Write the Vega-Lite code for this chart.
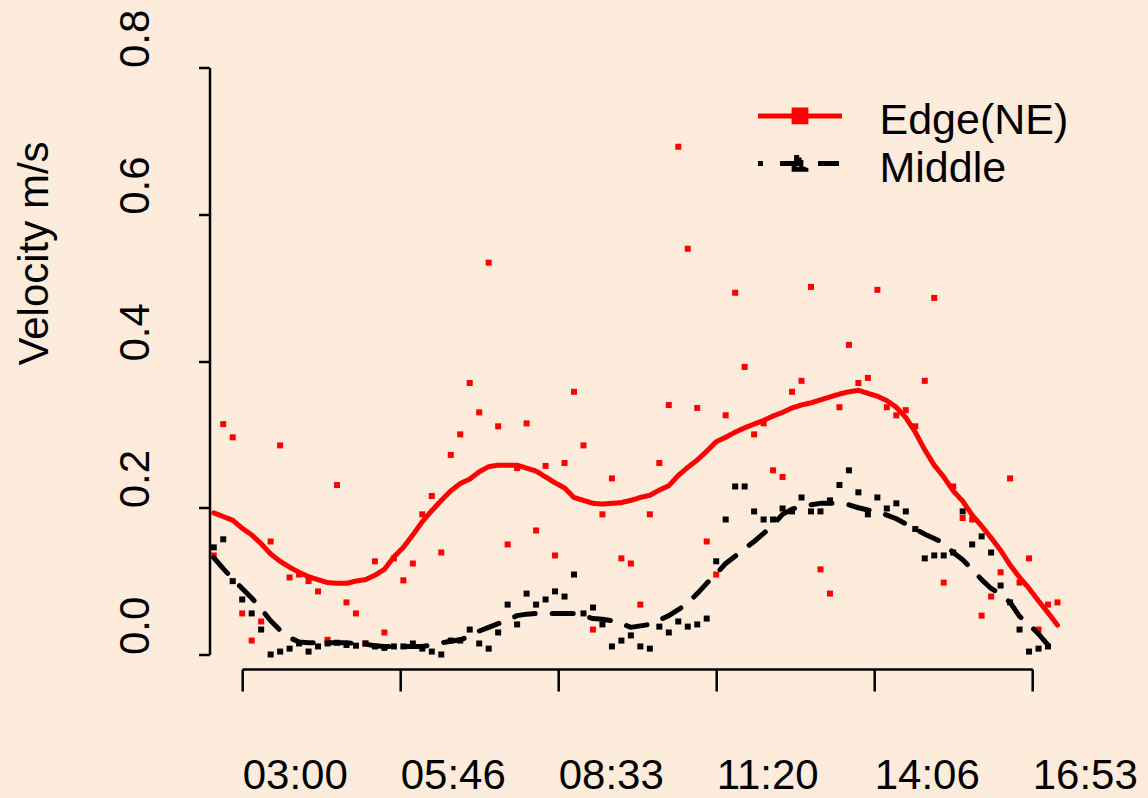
{
  "$schema": "https://vega.github.io/schema/vega-lite/v6.json",
  "width": 790,
  "height": 587,
  "autosize": "none",
  "padding": {"left": 242.2, "top": 67.5, "right": 115.8, "bottom": 143.5},
  "background": "#FDEBDC",
  "config": {
    "view": {"stroke": null},
    "font": "Liberation Sans",
    "axis": {
      "domainColor": "#000000", "domainWidth": 2.5, "tickColor": "#000000", "tickWidth": 2.5,
      "labelColor": "#000000", "labelFont": "Liberation Sans", "labelFontSize": 42,
      "titleColor": "#000000", "titleFont": "Liberation Sans", "titleFontSize": 42, "titleFontWeight": "normal",
      "grid": false, "labelFlush": false, "labelOverlap": false, "labelBound": false
    }
  },
  "data": {
    "format": {"parse": {"t": "date:'%H:%M'"}},
    "values": [
      {"t": "02:30", "series": "Edge(NE)", "speed": 0.135, "smooth": 0.193},
      {"t": "02:40", "series": "Edge(NE)", "speed": 0.314, "smooth": 0.188},
      {"t": "02:50", "series": "Edge(NE)", "speed": 0.296, "smooth": 0.183},
      {"t": "03:00", "series": "Edge(NE)", "speed": 0.056, "smooth": 0.172},
      {"t": "03:10", "series": "Edge(NE)", "speed": 0.019, "smooth": 0.163},
      {"t": "03:20", "series": "Edge(NE)", "speed": 0.045, "smooth": 0.151},
      {"t": "03:30", "series": "Edge(NE)", "speed": 0.154, "smooth": 0.137},
      {"t": "03:40", "series": "Edge(NE)", "speed": 0.285, "smooth": 0.127},
      {"t": "03:50", "series": "Edge(NE)", "speed": 0.105, "smooth": 0.119},
      {"t": "04:00", "series": "Edge(NE)", "speed": 0.109, "smooth": 0.112},
      {"t": "04:10", "series": "Edge(NE)", "speed": 0.100, "smooth": 0.106},
      {"t": "04:20", "series": "Edge(NE)", "speed": 0.086, "smooth": 0.102},
      {"t": "04:30", "series": "Edge(NE)", "speed": 0.020, "smooth": 0.098},
      {"t": "04:40", "series": "Edge(NE)", "speed": 0.231, "smooth": 0.097},
      {"t": "04:50", "series": "Edge(NE)", "speed": 0.071, "smooth": 0.097},
      {"t": "05:00", "series": "Edge(NE)", "speed": 0.056, "smooth": 0.100},
      {"t": "05:10", "series": "Edge(NE)", "speed": 0.015, "smooth": 0.102},
      {"t": "05:20", "series": "Edge(NE)", "speed": 0.127, "smooth": 0.108},
      {"t": "05:30", "series": "Edge(NE)", "speed": 0.030, "smooth": 0.116},
      {"t": "05:40", "series": "Edge(NE)", "speed": 0.131, "smooth": 0.133},
      {"t": "05:50", "series": "Edge(NE)", "speed": 0.101, "smooth": 0.146},
      {"t": "06:00", "series": "Edge(NE)", "speed": 0.124, "smooth": 0.163},
      {"t": "06:10", "series": "Edge(NE)", "speed": 0.191, "smooth": 0.181},
      {"t": "06:20", "series": "Edge(NE)", "speed": 0.216, "smooth": 0.196},
      {"t": "06:30", "series": "Edge(NE)", "speed": 0.139, "smooth": 0.210},
      {"t": "06:40", "series": "Edge(NE)", "speed": 0.272, "smooth": 0.223},
      {"t": "06:50", "series": "Edge(NE)", "speed": 0.300, "smooth": 0.233},
      {"t": "07:00", "series": "Edge(NE)", "speed": 0.370, "smooth": 0.239},
      {"t": "07:10", "series": "Edge(NE)", "speed": 0.330, "smooth": 0.249},
      {"t": "07:20", "series": "Edge(NE)", "speed": 0.534, "smooth": 0.256},
      {"t": "07:30", "series": "Edge(NE)", "speed": 0.311, "smooth": 0.258},
      {"t": "07:40", "series": "Edge(NE)", "speed": 0.150, "smooth": 0.258},
      {"t": "07:50", "series": "Edge(NE)", "speed": 0.254, "smooth": 0.258},
      {"t": "08:00", "series": "Edge(NE)", "speed": 0.315, "smooth": 0.254},
      {"t": "08:10", "series": "Edge(NE)", "speed": 0.169, "smooth": 0.250},
      {"t": "08:20", "series": "Edge(NE)", "speed": 0.257, "smooth": 0.242},
      {"t": "08:30", "series": "Edge(NE)", "speed": 0.135, "smooth": 0.234},
      {"t": "08:40", "series": "Edge(NE)", "speed": 0.261, "smooth": 0.227},
      {"t": "08:50", "series": "Edge(NE)", "speed": 0.358, "smooth": 0.214},
      {"t": "09:00", "series": "Edge(NE)", "speed": 0.285, "smooth": 0.210},
      {"t": "09:10", "series": "Edge(NE)", "speed": 0.034, "smooth": 0.206},
      {"t": "09:20", "series": "Edge(NE)", "speed": 0.191, "smooth": 0.205},
      {"t": "09:30", "series": "Edge(NE)", "speed": 0.240, "smooth": 0.206},
      {"t": "09:40", "series": "Edge(NE)", "speed": 0.131, "smooth": 0.207},
      {"t": "09:50", "series": "Edge(NE)", "speed": 0.124, "smooth": 0.210},
      {"t": "10:00", "series": "Edge(NE)", "speed": 0.068, "smooth": 0.214},
      {"t": "10:10", "series": "Edge(NE)", "speed": 0.191, "smooth": 0.217},
      {"t": "10:20", "series": "Edge(NE)", "speed": 0.261, "smooth": 0.224},
      {"t": "10:30", "series": "Edge(NE)", "speed": 0.340, "smooth": 0.230},
      {"t": "10:40", "series": "Edge(NE)", "speed": 0.692, "smooth": 0.244},
      {"t": "10:50", "series": "Edge(NE)", "speed": 0.553, "smooth": 0.255},
      {"t": "11:00", "series": "Edge(NE)", "speed": 0.336, "smooth": 0.265},
      {"t": "11:10", "series": "Edge(NE)", "speed": 0.154, "smooth": 0.277},
      {"t": "11:20", "series": "Edge(NE)", "speed": 0.109, "smooth": 0.290},
      {"t": "11:30", "series": "Edge(NE)", "speed": 0.326, "smooth": 0.296},
      {"t": "11:40", "series": "Edge(NE)", "speed": 0.493, "smooth": 0.303},
      {"t": "11:50", "series": "Edge(NE)", "speed": 0.392, "smooth": 0.309},
      {"t": "12:00", "series": "Edge(NE)", "speed": 0.300, "smooth": 0.314},
      {"t": "12:10", "series": "Edge(NE)", "speed": 0.315, "smooth": 0.319},
      {"t": "12:20", "series": "Edge(NE)", "speed": 0.251, "smooth": 0.325},
      {"t": "12:30", "series": "Edge(NE)", "speed": 0.242, "smooth": 0.330},
      {"t": "12:40", "series": "Edge(NE)", "speed": 0.358, "smooth": 0.336},
      {"t": "12:50", "series": "Edge(NE)", "speed": 0.373, "smooth": 0.340},
      {"t": "13:00", "series": "Edge(NE)", "speed": 0.501, "smooth": 0.343},
      {"t": "13:10", "series": "Edge(NE)", "speed": 0.116, "smooth": 0.347},
      {"t": "13:20", "series": "Edge(NE)", "speed": 0.083, "smooth": 0.351},
      {"t": "13:30", "series": "Edge(NE)", "speed": 0.337, "smooth": 0.355},
      {"t": "13:40", "series": "Edge(NE)", "speed": 0.422, "smooth": 0.358},
      {"t": "13:50", "series": "Edge(NE)", "speed": 0.370, "smooth": 0.360},
      {"t": "14:00", "series": "Edge(NE)", "speed": 0.377, "smooth": 0.356},
      {"t": "14:10", "series": "Edge(NE)", "speed": 0.497, "smooth": 0.352},
      {"t": "14:20", "series": "Edge(NE)", "speed": 0.337, "smooth": 0.346},
      {"t": "14:30", "series": "Edge(NE)", "speed": 0.326, "smooth": 0.337},
      {"t": "14:40", "series": "Edge(NE)", "speed": 0.333, "smooth": 0.323},
      {"t": "14:50", "series": "Edge(NE)", "speed": 0.311, "smooth": 0.303},
      {"t": "15:00", "series": "Edge(NE)", "speed": 0.373, "smooth": 0.279},
      {"t": "15:10", "series": "Edge(NE)", "speed": 0.486, "smooth": 0.258},
      {"t": "15:20", "series": "Edge(NE)", "speed": 0.098, "smooth": 0.242},
      {"t": "15:30", "series": "Edge(NE)", "speed": 0.229, "smooth": 0.223},
      {"t": "15:40", "series": "Edge(NE)", "speed": 0.186, "smooth": 0.209},
      {"t": "15:50", "series": "Edge(NE)", "speed": 0.184, "smooth": 0.190},
      {"t": "16:00", "series": "Edge(NE)", "speed": 0.053, "smooth": 0.175},
      {"t": "16:10", "series": "Edge(NE)", "speed": 0.079, "smooth": 0.159},
      {"t": "16:20", "series": "Edge(NE)", "speed": 0.112, "smooth": 0.142},
      {"t": "16:30", "series": "Edge(NE)", "speed": 0.240, "smooth": 0.122},
      {"t": "16:40", "series": "Edge(NE)", "speed": 0.098, "smooth": 0.105},
      {"t": "16:50", "series": "Edge(NE)", "speed": 0.131, "smooth": 0.090},
      {"t": "17:00", "series": "Edge(NE)", "speed": 0.034, "smooth": 0.073},
      {"t": "17:10", "series": "Edge(NE)", "speed": 0.068, "smooth": 0.057},
      {"t": "17:20", "series": "Edge(NE)", "speed": 0.071, "smooth": 0.040},
      {"t": "02:30", "series": "Middle", "speed": 0.146, "smooth": 0.132},
      {"t": "02:40", "series": "Middle", "speed": 0.157, "smooth": 0.117},
      {"t": "02:50", "series": "Middle", "speed": 0.100, "smooth": 0.103},
      {"t": "03:00", "series": "Middle", "speed": 0.075, "smooth": 0.090},
      {"t": "03:10", "series": "Middle", "speed": 0.056, "smooth": 0.077},
      {"t": "03:20", "series": "Middle", "speed": 0.034, "smooth": 0.062},
      {"t": "03:30", "series": "Middle", "speed": 0.000, "smooth": 0.046},
      {"t": "03:40", "series": "Middle", "speed": 0.004, "smooth": 0.033},
      {"t": "03:50", "series": "Middle", "speed": 0.008, "smooth": 0.023},
      {"t": "04:00", "series": "Middle", "speed": 0.015, "smooth": 0.017},
      {"t": "04:10", "series": "Middle", "speed": 0.004, "smooth": 0.016},
      {"t": "04:20", "series": "Middle", "speed": 0.011, "smooth": 0.016},
      {"t": "04:30", "series": "Middle", "speed": 0.015, "smooth": 0.016},
      {"t": "04:40", "series": "Middle", "speed": 0.016, "smooth": 0.016},
      {"t": "04:50", "series": "Middle", "speed": 0.013, "smooth": 0.016},
      {"t": "05:00", "series": "Middle", "speed": 0.012, "smooth": 0.015},
      {"t": "05:10", "series": "Middle", "speed": 0.015, "smooth": 0.014},
      {"t": "05:20", "series": "Middle", "speed": 0.011, "smooth": 0.012},
      {"t": "05:30", "series": "Middle", "speed": 0.009, "smooth": 0.011},
      {"t": "05:40", "series": "Middle", "speed": 0.011, "smooth": 0.011},
      {"t": "05:50", "series": "Middle", "speed": 0.011, "smooth": 0.011},
      {"t": "06:00", "series": "Middle", "speed": 0.015, "smooth": 0.011},
      {"t": "06:10", "series": "Middle", "speed": 0.008, "smooth": 0.011},
      {"t": "06:20", "series": "Middle", "speed": 0.004, "smooth": 0.013},
      {"t": "06:30", "series": "Middle", "speed": 0.000, "smooth": 0.016},
      {"t": "06:40", "series": "Middle", "speed": 0.019, "smooth": 0.018},
      {"t": "06:50", "series": "Middle", "speed": 0.019, "smooth": 0.020},
      {"t": "07:00", "series": "Middle", "speed": 0.034, "smooth": 0.025},
      {"t": "07:10", "series": "Middle", "speed": 0.015, "smooth": 0.032},
      {"t": "07:20", "series": "Middle", "speed": 0.008, "smooth": 0.037},
      {"t": "07:30", "series": "Middle", "speed": 0.030, "smooth": 0.042},
      {"t": "07:40", "series": "Middle", "speed": 0.068, "smooth": 0.047},
      {"t": "07:50", "series": "Middle", "speed": 0.041, "smooth": 0.053},
      {"t": "08:00", "series": "Middle", "speed": 0.083, "smooth": 0.055},
      {"t": "08:10", "series": "Middle", "speed": 0.068, "smooth": 0.056},
      {"t": "08:20", "series": "Middle", "speed": 0.075, "smooth": 0.056},
      {"t": "08:30", "series": "Middle", "speed": 0.086, "smooth": 0.056},
      {"t": "08:40", "series": "Middle", "speed": 0.079, "smooth": 0.056},
      {"t": "08:50", "series": "Middle", "speed": 0.109, "smooth": 0.056},
      {"t": "09:00", "series": "Middle", "speed": 0.056, "smooth": 0.053},
      {"t": "09:10", "series": "Middle", "speed": 0.064, "smooth": 0.049},
      {"t": "09:20", "series": "Middle", "speed": 0.041, "smooth": 0.048},
      {"t": "09:30", "series": "Middle", "speed": 0.011, "smooth": 0.046},
      {"t": "09:40", "series": "Middle", "speed": 0.019, "smooth": 0.042},
      {"t": "09:50", "series": "Middle", "speed": 0.026, "smooth": 0.037},
      {"t": "10:00", "series": "Middle", "speed": 0.011, "smooth": 0.039},
      {"t": "10:10", "series": "Middle", "speed": 0.008, "smooth": 0.041},
      {"t": "10:20", "series": "Middle", "speed": 0.038, "smooth": 0.047},
      {"t": "10:30", "series": "Middle", "speed": 0.030, "smooth": 0.053},
      {"t": "10:40", "series": "Middle", "speed": 0.045, "smooth": 0.061},
      {"t": "10:50", "series": "Middle", "speed": 0.038, "smooth": 0.070},
      {"t": "11:00", "series": "Middle", "speed": 0.041, "smooth": 0.083},
      {"t": "11:10", "series": "Middle", "speed": 0.049, "smooth": 0.097},
      {"t": "11:20", "series": "Middle", "speed": 0.127, "smooth": 0.110},
      {"t": "11:30", "series": "Middle", "speed": 0.184, "smooth": 0.124},
      {"t": "11:40", "series": "Middle", "speed": 0.229, "smooth": 0.134},
      {"t": "11:50", "series": "Middle", "speed": 0.229, "smooth": 0.144},
      {"t": "12:00", "series": "Middle", "speed": 0.195, "smooth": 0.154},
      {"t": "12:10", "series": "Middle", "speed": 0.184, "smooth": 0.165},
      {"t": "12:20", "series": "Middle", "speed": 0.184, "smooth": 0.177},
      {"t": "12:30", "series": "Middle", "speed": 0.199, "smooth": 0.191},
      {"t": "12:40", "series": "Middle", "speed": 0.195, "smooth": 0.198},
      {"t": "12:50", "series": "Middle", "speed": 0.214, "smooth": 0.202},
      {"t": "13:00", "series": "Middle", "speed": 0.195, "smooth": 0.204},
      {"t": "13:10", "series": "Middle", "speed": 0.195, "smooth": 0.206},
      {"t": "13:20", "series": "Middle", "speed": 0.210, "smooth": 0.206},
      {"t": "13:30", "series": "Middle", "speed": 0.231, "smooth": 0.206},
      {"t": "13:40", "series": "Middle", "speed": 0.251, "smooth": 0.204},
      {"t": "13:50", "series": "Middle", "speed": 0.221, "smooth": 0.200},
      {"t": "14:00", "series": "Middle", "speed": 0.191, "smooth": 0.197},
      {"t": "14:10", "series": "Middle", "speed": 0.214, "smooth": 0.195},
      {"t": "14:20", "series": "Middle", "speed": 0.199, "smooth": 0.190},
      {"t": "14:30", "series": "Middle", "speed": 0.206, "smooth": 0.185},
      {"t": "14:40", "series": "Middle", "speed": 0.195, "smooth": 0.178},
      {"t": "14:50", "series": "Middle", "speed": 0.171, "smooth": 0.171},
      {"t": "15:00", "series": "Middle", "speed": 0.131, "smooth": 0.164},
      {"t": "15:10", "series": "Middle", "speed": 0.135, "smooth": 0.158},
      {"t": "15:20", "series": "Middle", "speed": 0.135, "smooth": 0.152},
      {"t": "15:30", "series": "Middle", "speed": 0.139, "smooth": 0.139},
      {"t": "15:40", "series": "Middle", "speed": 0.195, "smooth": 0.129},
      {"t": "15:50", "series": "Middle", "speed": 0.150, "smooth": 0.116},
      {"t": "16:00", "series": "Middle", "speed": 0.161, "smooth": 0.102},
      {"t": "16:10", "series": "Middle", "speed": 0.139, "smooth": 0.090},
      {"t": "16:20", "series": "Middle", "speed": 0.094, "smooth": 0.082},
      {"t": "16:30", "series": "Middle", "speed": 0.071, "smooth": 0.071},
      {"t": "16:40", "series": "Middle", "speed": 0.034, "smooth": 0.052},
      {"t": "16:50", "series": "Middle", "speed": 0.004, "smooth": 0.041},
      {"t": "17:00", "series": "Middle", "speed": 0.008, "smooth": 0.028},
      {"t": "17:10", "series": "Middle", "speed": 0.011, "smooth": 0.013}
    ]
  },
  "encoding": {
    "x": {
      "field": "t",
      "type": "temporal",
      "scale": {
        "domain": [
          {"year": 1900, "month": 1, "date": 1, "hours": 3, "minutes": 0},
          {"year": 1900, "month": 1, "date": 1, "hours": 16, "minutes": 53, "seconds": 20}
        ],
        "nice": false
      },
      "axis": {
        "title": null,
        "offset": 14.5,
        "tickSize": 22,
        "labelAlign": "left",
        "labelBaseline": "alphabetic",
        "labelPadding": 97,
        "format": "%H:%M",
        "values": [
          {"year": 1900, "month": 1, "date": 1, "hours": 3, "minutes": 0},
          {"year": 1900, "month": 1, "date": 1, "hours": 5, "minutes": 46, "seconds": 40},
          {"year": 1900, "month": 1, "date": 1, "hours": 8, "minutes": 33, "seconds": 20},
          {"year": 1900, "month": 1, "date": 1, "hours": 11, "minutes": 20},
          {"year": 1900, "month": 1, "date": 1, "hours": 14, "minutes": 6, "seconds": 40},
          {"year": 1900, "month": 1, "date": 1, "hours": 16, "minutes": 53, "seconds": 20}
        ]
      }
    }
  },
  "layer": [
    {
      "mark": {"type": "square", "size": 36, "opacity": 1, "strokeWidth": 0},
      "encoding": {
        "y": {
          "field": "speed",
          "type": "quantitative",
          "scale": {"domain": [0, 0.8], "nice": false},
          "axis": {
            "title": "Velocity m/s",
            "offset": 32.7,
            "tickSize": 11,
            "values": [0, 0.2, 0.4, 0.6, 0.8],
            "format": ".1f",
            "labelAngle": 270,
            "labelAlign": "left",
            "labelBaseline": "alphabetic",
            "labelPadding": 50.5,
            "titleAngle": 270,
            "titleAlign": "left",
            "titleBaseline": "alphabetic",
            "titleX": -162.5,
            "titleY": 297.5
          }
        },
        "fill": {
          "condition": {"test": "datum.series === 'Edge(NE)'", "value": "#FF0000"},
          "value": "#000000"
        }
      }
    },
    {
      "mark": {"type": "line", "strokeWidth": 5, "strokeCap": "round", "strokeJoin": "round"},
      "encoding": {
        "y": {"field": "smooth", "type": "quantitative"},
        "color": {
          "field": "series",
          "type": "nominal",
          "scale": {"domain": ["Edge(NE)", "Middle"], "range": ["#FF0000", "#000000"]},
          "legend": {
            "title": null,
            "orient": "none",
            "legendX": 536.3,
            "legendY": 32,
            "padding": 0,
            "symbolOffset": 0,
            "symbolType": "M-2.5,-0.3H2.5M-0.35,-0.65H0.35V0.05H-0.35ZM-0.2,-0.5H0.2V-0.1H-0.2ZM-0.05,-0.35H0.05V-0.25H-0.05Z",
            "symbolSize": 1129,
            "symbolStrokeWidth": 5,
            "symbolDashOffset": 16,
            "labelFont": "Liberation Sans",
            "labelFontSize": 43,
            "labelColor": "#000000",
            "labelLimit": 500,
            "labelOffset": 58,
            "rowPadding": 3.5
          }
        },
        "strokeDash": {
          "field": "series",
          "type": "nominal",
          "scale": {"domain": ["Edge(NE)", "Middle"], "range": [[1, 0], [21, 17]]},
          "legend": {
            "title": null,
            "orient": "none",
            "legendX": 536.3,
            "legendY": 32,
            "padding": 0,
            "symbolOffset": 0,
            "symbolType": "M-2.5,-0.3H2.5M-0.35,-0.65H0.35V0.05H-0.35ZM-0.2,-0.5H0.2V-0.1H-0.2ZM-0.05,-0.35H0.05V-0.25H-0.05Z",
            "symbolSize": 1129,
            "symbolStrokeWidth": 5,
            "symbolDashOffset": 16,
            "labelFont": "Liberation Sans",
            "labelFontSize": 43,
            "labelColor": "#000000",
            "labelLimit": 500,
            "labelOffset": 58,
            "rowPadding": 3.5
          }
        }
      }
    }
  ]
}
